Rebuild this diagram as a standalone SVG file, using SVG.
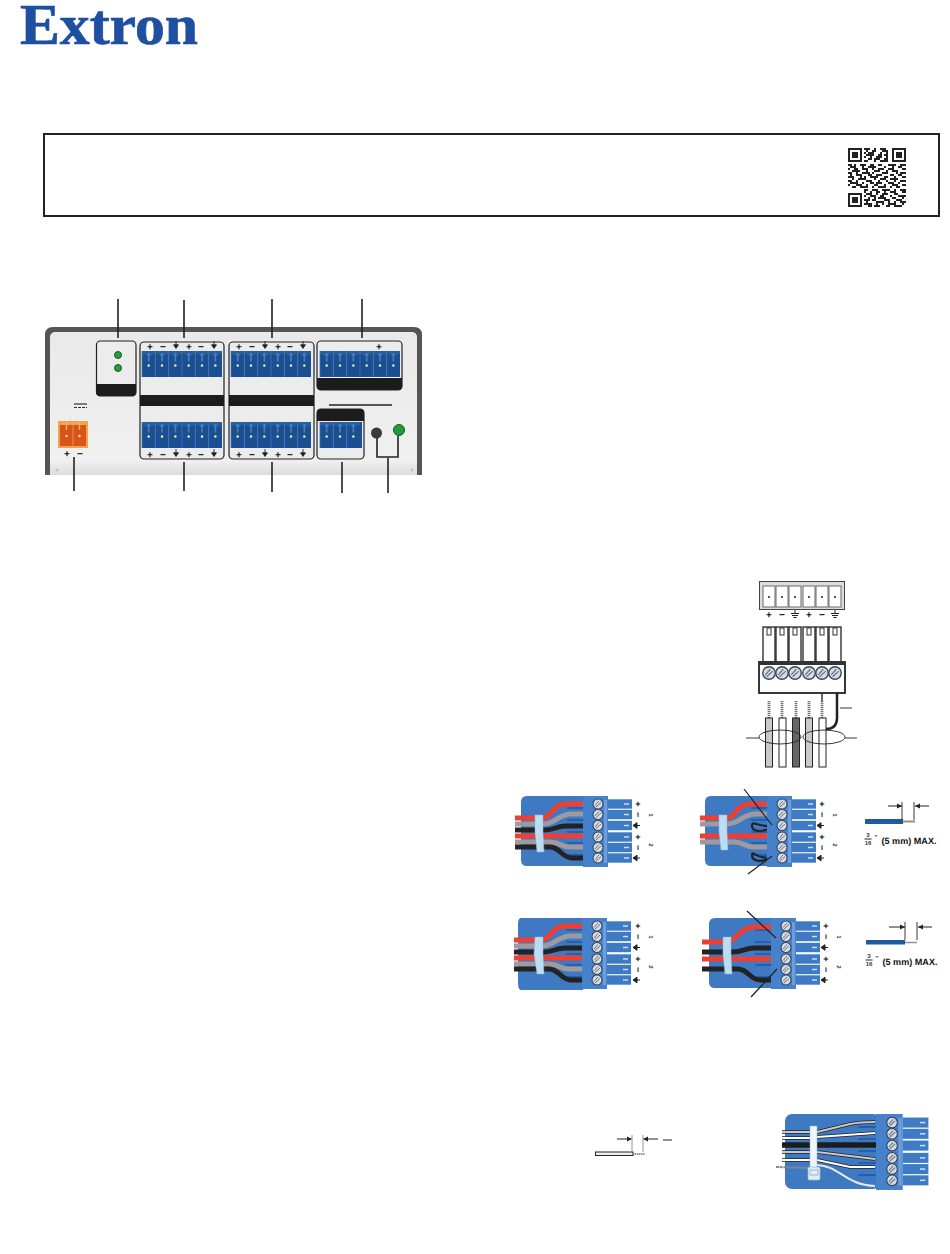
<svg xmlns="http://www.w3.org/2000/svg" width="950" height="1254" viewBox="0 0 950 1254">
<style>
.lead{stroke:#222;stroke-width:1.6;fill:none}
.thin{stroke:#222;stroke-width:.9;fill:none}
.box{fill:#ececec;stroke:#222;stroke-width:1.2}
.blk{fill:#1c1c1c}
.sym{font:bold 10px "Liberation Sans",Arial,sans-serif;fill:#111;text-anchor:middle;text-rendering:geometricPrecision}
.lab{font:bold 9px "Liberation Sans",Arial,sans-serif;fill:#111;text-anchor:middle;text-rendering:geometricPrecision}
.dig{font:bold 6px "Liberation Sans",Arial,sans-serif;fill:#333;text-anchor:middle}
.red{stroke:#ee3f33;stroke-width:5;fill:none}
.gry{stroke:#9e9a9f;stroke-width:5;fill:none}
.bk{stroke:#232323;stroke-width:5;fill:none}
.tie{fill:#bcdcf2;stroke:#8fb8dc;stroke-width:.5}
.jk{stroke:#222;stroke-width:1}
</style>
<defs>
<linearGradient id="pg" x1="0" y1="0" x2="0" y2="1"><stop offset="0" stop-color="#e9e9e9"/><stop offset=".9" stop-color="#f0f0f0"/><stop offset="1" stop-color="#dcdcdc"/></linearGradient>
<g id="cell"><rect width="13.33" height="26" fill="#1c4f92"/><rect width="13.33" height="3.5" fill="#2a5e9c"/><path d="M6.7 1.5l2.500 3h-1.700v6h-1.600v-6h-1.700z" fill="#4680c2"/><path d="M0 0v26" stroke="#3a73b6" stroke-width=".8"/><circle cx="6.700" cy="14.500" r="1.200" fill="#f2f2a8"/></g>
<g id="t6"><use href="#cell"/><use href="#cell" x="13.33"/><use href="#cell" x="26.66"/><use href="#cell" x="40"/><use href="#cell" x="53.33"/><use href="#cell" x="66.66"/></g>
<g id="t3"><use href="#cell"/><use href="#cell" x="13.33"/><use href="#cell" x="26.66"/><rect x="40" width="2" height="26" fill="#1c5195"/></g>
<path id="gnd" d="M0 -5V-1M-2.400 -1.200H2.400L0 2.400Z" fill="#222" stroke="#222" stroke-width=".9"/>
<path id="earth" d="M0 -5V-1.500M-4 -1.500H4M-3 .5H3M-1.600 2.500H1.600" fill="none" stroke="#222" stroke-width="1"/>
<g id="pm6"><text class="sym" x="0" y="3.500">+</text><text class="sym" x="13" y="3.500">−</text><use href="#gnd" x="26"/><text class="sym" x="39" y="3.500">+</text><text class="sym" x="51" y="3.500">−</text><use href="#gnd" x="64"/></g>
<g id="scr"><circle r="5" fill="#d8dbe0" stroke="#34465f" stroke-width="1.100"/><path d="M-3 1.500L1 -3M-2 3L3 -1.500" stroke="#66758a" stroke-width="1"/></g>
<g id="blade"><rect width="24" height="9.400" y="-4.700" fill="#3f7bc4"/><rect x="16" y="-.7" width="5" height="1.400" fill="#cfe3f6"/></g>
<g id="conn">
<path d="M527 796H584V866H527Q521 866 521 860V802Q521 796 527 796Z" fill="#3f79c2"/>
<path d="M567 808h16M567 820h16M567 832h16M567 843h16M567 855h16" stroke="#1d5aa6" stroke-width="1.600"/>
</g>
<g id="head">
<use href="#blade" x="608" y="804"/><use href="#blade" x="608" y="814.500"/><use href="#blade" x="608" y="825.500"/><use href="#blade" x="608" y="837"/><use href="#blade" x="608" y="847.500"/><use href="#blade" x="608" y="858"/>
<rect x="583" y="796" width="25" height="71" fill="#4682cb"/><rect x="604" y="800" width="3" height="63" fill="#6a9fdc"/>
<use href="#scr" x="598" y="804"/><use href="#scr" x="598" y="814.500"/><use href="#scr" x="598" y="825.500"/><use href="#scr" x="598" y="837"/><use href="#scr" x="598" y="847.500"/><use href="#scr" x="598" y="858"/>
</g>
<g id="labs">
<text class="lab" x="638" y="807">+</text><text class="lab" transform="translate(638,814.500) rotate(90)" y="3">−</text><path d="M633 825.500h7M633 825.500l4-2.800v5.600z" stroke="#222" fill="#222"/>
<text class="lab" x="638" y="840">+</text><text class="lab" transform="translate(638,847.500) rotate(90)" y="3">−</text><path d="M633 858h7M633 858l4-2.800v5.600z" stroke="#222" fill="#222"/>
<text class="dig" transform="translate(649,815) rotate(90)">1</text><text class="dig" transform="translate(649,845) rotate(90)">2</text>
</g>
<g id="dfull">
<path class="red" d="M515 818H542C552 818 552 804 566 804H584"/>
<path class="gry" d="M515 824H543C555 824 558 814 572 814H584"/>
<path class="bk" d="M515 830H545C555 830 556 826 566 826H584"/>
<path class="red" d="M515 836H584"/>
<path class="gry" d="M515 842H550C560 842 560 847 570 847H584"/>
<path class="bk" d="M515 847H550C560 847 562 858 572 858H584"/>
</g>
<g id="frac"><text class="dig" x="0" y="0">3</text><path d="M-3.500 2h7" stroke="#222"/><text class="dig" x="0" y="8">16</text><text class="dig" x="8" y="2">"</text><text class="lab" x="41" y="7" textLength="55" lengthAdjust="spacingAndGlyphs">(5 mm) MAX.</text></g>
</defs>

<g id="logo"><text x="20" y="44" font-family="'Liberation Serif','Times New Roman',serif" font-weight="bold" font-size="58" fill="#1f4fa0" stroke="#1f4fa0" stroke-width=".7" textLength="178" lengthAdjust="spacingAndGlyphs">Extron</text></g>

<g id="banner"><rect x="44" y="134" width="895" height="82" fill="#fff" stroke="#222" stroke-width="2"/></g>
<g id="qr">
<g fill="none" stroke="#222" stroke-width="2"><rect x="849" y="149" width="12" height="12"/><rect x="893" y="149" width="12" height="12"/><rect x="849" y="194" width="12" height="12"/></g>
<path d="M852 152h6v6h-6zM896 152h6v6h-6zM852 197h6v6h-6z" fill="#222"/>
<path fill="none" stroke="#222" stroke-width="2" d="M864 149h6M874 149h2M880 149h6M866 151h2M872 151h4M882 151h6M864 153h2M868 153h6M880 153h2M886 153h2M866 155h8M878 155h4M884 155h4M864 157h2M870 157h2M876 157h6M886 157h2M868 159h4M874 159h6M884 159h4M864 161h4M874 161h2M880 161h8
M848 165h4M854 165h2M860 165h6M870 165h4M878 165h4M888 165h8M900 165h6M850 167h6M862 167h2M868 167h8M884 167h2M892 167h2M898 167h4M848 169h2M854 169h4M862 169h6M872 169h2M878 169h6M888 169h6M902 169h4M852 171h8M866 171h2M874 171h6M886 171h2M892 171h6M848 173h4M856 173h2M862 173h8M872 173h2M882 173h6M896 173h2M900 173h6M850 175h2M856 175h6M868 175h4M876 175h6M890 175h4M898 175h4M848 177h6M860 177h2M864 177h2M870 177h8M884 177h4M894 177h2M902 177h4M852 179h2M858 179h8M874 179h2M880 179h6M890 179h8M848 181h4M856 181h2M866 181h6M878 181h2M886 181h2M894 181h2M900 181h6M850 183h8M862 183h2M870 183h4M876 183h6M888 183h6M898 183h2M848 185h2M856 185h6M866 185h2M874 185h4M884 185h2M892 185h6M902 185h4M852 187h4M860 187h8M872 187h2M878 187h8M890 187h2M896 187h4M864 190h4M872 190h6M882 190h8M894 190h2M900 190h6
M864 192h2M870 192h2M876 192h4M884 192h2M890 192h6M902 192h4M866 194h6M876 194h2M882 194h6M894 194h4M864 196h2M870 196h6M880 196h4M890 196h2M898 196h8M868 198h2M874 198h2M878 198h8M892 198h4M902 198h2M864 200h6M872 200h4M884 200h6M896 200h6M866 202h2M876 202h8M888 202h2M894 202h2M900 202h6M864 204h8M876 204h2M882 204h2M888 204h8M902 204h2M868 206h4M874 206h6M886 206h4M894 206h8"/>
</g>

<g id="panel">
<path d="M45 475V335Q45 327 53 327H414Q422 327 422 335V475H417V338Q417 332 411 332H56Q50 332 50 338V475Z" fill="#555"/>
<path d="M50 475V338Q50 332 56 332H411Q417 332 417 338V475Z" fill="url(#pg)"/>
<circle cx="57" cy="470" r="1.500" fill="#c4c4c4"/><circle cx="412" cy="470" r="1.500" fill="#c4c4c4"/>
</g>
<g id="power">
<rect x="58" y="421" width="30" height="27" fill="#f0a24c"/><rect x="60" y="425" width="26" height="21" fill="#d8541a"/><path d="M73 425v21" stroke="#f0a24c" stroke-width=".8"/>
<path d="M66.500 422v8M79.500 422v8" stroke="#f4b070" stroke-width="1.400"/><circle cx="66.500" cy="436" r="1.200" fill="#f6e2a0"/><circle cx="79.500" cy="436" r="1.200" fill="#f6e2a0"/>
<path d="M74 404h13" stroke="#333" stroke-width="1.200"/><path d="M74 407.500h13" stroke="#333" stroke-width="1.200" stroke-dasharray="3 1"/>
<text class="sym" x="67" y="457">+</text><text class="sym" x="80" y="457">−</text>
</g>
<g id="leds">
<rect class="box" x="96.500" y="341" width="39.500" height="55" rx="4"/><path class="blk" d="M96 384H136V392Q136 396 132 396H100Q96 396 96 392Z"/>
<circle cx="118" cy="355" r="3.500" fill="#2c9b3c" stroke="#15631f"/><circle cx="118" cy="368" r="3.500" fill="#2c9b3c" stroke="#15631f"/>
</g>
<g id="in1">
<rect class="box" x="140" y="342" width="84" height="117" rx="4"/><rect class="blk" x="140" y="395" width="84" height="11"/>
<use href="#t6" x="142" y="351"/><use href="#t6" x="142" y="422"/><use href="#pm6" x="150" y="346"/><use href="#pm6" x="150" y="454"/>
</g>
<g id="in2">
<rect class="box" x="229" y="342" width="85" height="117" rx="4"/><rect class="blk" x="229" y="395" width="85" height="11"/>
<use href="#t6" x="231" y="351"/><use href="#t6" x="231" y="422"/><use href="#pm6" x="239" y="346"/><use href="#pm6" x="239" y="454"/>
</g>
<g id="out">
<rect class="box" x="317" y="341" width="85" height="49" rx="4"/><path class="blk" d="M317 378H402V386Q402 390 398 390H321Q317 390 317 386Z"/>
<use href="#t6" x="320" y="351"/><path d="M320 377.500h80" stroke="#fff" stroke-width="1"/><text class="sym" x="379" y="350">+</text>
</g>
<g id="rs">
<path d="M329 405H392" stroke="#222" stroke-width="1.300"/>
<rect class="box" x="317" y="409" width="47" height="50" rx="4"/><path class="blk" d="M317 421V413Q317 409 321 409H360Q364 409 364 413V421Z"/>
<use href="#t3" x="320" y="422"/>
</g>
<g id="buttons"><circle cx="376.500" cy="433" r="5.500" fill="#3a3a3a"/><circle cx="399" cy="430" r="5.500" fill="#1f9c3a" stroke="#0e5f20"/></g>

<g id="wiring">
<g id="wtop"><rect x="759.500" y="581.500" width="85" height="28" fill="#dcdcdc" stroke="#444"/>
<g fill="#fff" stroke="#777" stroke-width="1.100"><rect x="763" y="586" width="12" height="21"/><rect x="776" y="586" width="12" height="21"/><rect x="789" y="586" width="12" height="21"/><rect x="803" y="586" width="12" height="21"/><rect x="816" y="586" width="12" height="21"/><rect x="829" y="586" width="12" height="21"/></g>
<g fill="#222"><circle cx="769" cy="597" r="1"/><circle cx="782" cy="597" r="1"/><circle cx="795" cy="597" r="1"/><circle cx="809" cy="597" r="1"/><circle cx="822" cy="597" r="1"/><circle cx="835" cy="597" r="1"/></g>
<text class="sym" x="769" y="618">+</text><text class="sym" x="782" y="618">−</text><use href="#earth" x="795" y="615"/><text class="sym" x="809" y="618">+</text><text class="sym" x="822" y="618">−</text><use href="#earth" x="835" y="615"/></g>
<g id="wplug">
<g fill="#fff" stroke="#222" stroke-width="1.300"><rect x="763" y="627" width="12" height="36"/><rect x="776" y="627" width="12" height="36"/><rect x="789" y="627" width="12" height="36"/><rect x="803" y="627" width="12" height="36"/><rect x="816" y="627" width="12" height="36"/><rect x="829" y="627" width="12" height="36"/></g>
<g fill="#fff" stroke="#333"><rect x="767" y="628" width="4" height="7"/><rect x="780" y="628" width="4" height="7"/><rect x="793" y="628" width="4" height="7"/><rect x="807" y="628" width="4" height="7"/><rect x="820" y="628" width="4" height="7"/><rect x="833" y="628" width="4" height="7"/></g>
<rect x="759" y="662" width="86" height="31" fill="#fff" stroke="#222" stroke-width="1.800"/><rect x="758" y="661" width="87" height="4" fill="#333"/>
<g transform="translate(769,673) scale(1.250)"><use href="#scr"/></g><g transform="translate(782,673) scale(1.250)"><use href="#scr"/></g><g transform="translate(795,673) scale(1.250)"><use href="#scr"/></g><g transform="translate(809,673) scale(1.250)"><use href="#scr"/></g><g transform="translate(822,673) scale(1.250)"><use href="#scr"/></g><g transform="translate(835,673) scale(1.250)"><use href="#scr"/></g>
</g>
<g id="wcables">
<path d="M837 693V718Q837 729 826 729" stroke="#222" stroke-width="2.500" fill="none"/><path d="M822 693V702" stroke="#333" stroke-width="1.500"/>
<g stroke="#777" stroke-width="2.800" stroke-dasharray="1.300 .7"><path d="M769 701V718"/><path d="M782 701V718"/><path d="M796 701V718"/><path d="M809 701V718"/><path d="M822 701V718"/></g>
<g class="jk"><rect x="765.500" y="718" width="7" height="49" fill="#c9c9c9"/><rect x="779" y="718" width="7" height="49" fill="#fff"/><rect x="792.500" y="718" width="7" height="49" fill="#666"/><rect x="805.500" y="718" width="7" height="49" fill="#c9c9c9"/><rect x="819" y="718" width="7" height="49" fill="#fff"/></g>
<ellipse cx="780" cy="737" rx="21" ry="7" fill="none" stroke="#222" stroke-width=".9"/><ellipse cx="824" cy="737" rx="21" ry="7" fill="none" stroke="#222" stroke-width=".9"/>
</g>
</g>

<g id="diagA">
<use href="#conn"/><use href="#dfull"/>
<path class="tie" d="M535 815H543V832L544 852H537L535 832Z"/>
<use href="#head"/><use href="#labs"/>
</g>
<g id="diagB">
<g transform="translate(184,0)"><use href="#conn"/>
<path class="red" d="M516 818H542C552 818 552 804 566 804H584"/><path class="gry" d="M516 824H543C555 824 558 814 572 814H584"/><path class="red" d="M516 836H584"/><path class="gry" d="M516 842H550C560 842 560 847 570 847H584"/>
<path d="M584 826C572 826 568 820 568 826C568 832 578 832 584 829M584 858C572 858 568 850 568 855C568 862 578 862 584 859" stroke="#232323" stroke-width="2.200" fill="none"/>
<path class="tie" d="M535 815H543V832L544 850H537L535 832Z"/>
<use href="#head"/><use href="#labs"/></g>
<path d="M744 789L772 825M748 874L772 856" stroke="#222" stroke-width="1.200"/>
</g>
<g id="stripA">
<rect x="865" y="819" width="38" height="5" fill="#1f5a9f"/><path d="M903 821.500h12" stroke="#9a8f84" stroke-width="2"/>
<path class="thin" d="M902 802V820M914 802V820"/><path d="M888 806H902M929 806H915" stroke="#222"/><path d="M902 806l-5-2.500v5zM915 806l5-2.500v5z" fill="#222"/>
<use href="#frac" x="868" y="837"/>
</g>
<g id="diagC">
<g transform="translate(-1,122)"><path d="M522 796H584V868H522Q519 868 519 860V802Q519 796 522 796Z" fill="#3f79c2"/><use href="#conn"/><use href="#dfull"/>
<path class="tie" d="M536 815H544V832L545 852H538L535 832Z"/><use href="#head"/></g>
<g transform="translate(0,122)"><use href="#labs"/></g>
</g>
<g id="diagD">
<g transform="translate(188,122)"><use href="#conn"/>
<path class="red" d="M514 820H538C548 820 552 805 566 805H584"/><path class="bk" d="M514 830H544C556 830 556 826 566 826H584"/><path class="red" d="M514 837H584"/><path class="bk" d="M514 847H550C560 847 562 858 572 858H584"/>
<path class="tie" d="M535 815H543V832L544 852H537L535 832Z"/><use href="#head"/><use href="#labs"/></g>
<path d="M747 911L776 938M751 997L777 969" stroke="#222" stroke-width="1.200"/>
</g>
<g id="stripB">
<rect x="866" y="940" width="39" height="4.500" fill="#1f5a9f"/><path d="M905 942.500h12" stroke="#9a8f84" stroke-width="1.500"/>
<path class="thin" d="M905 922V940M917 922V940"/><path d="M889 927H905M932 927H918" stroke="#222"/><path d="M905 927l-5-2.500v5zM918 927l5-2.500v5z" fill="#222"/>
<use href="#frac" x="869" y="958"/>
</g>
<g id="stripC">
<rect x="595.500" y="1152" width="37.500" height="3.500" fill="#eee" stroke="#222"/><path d="M633 1154h12" stroke="#777" stroke-width="1.500" stroke-dasharray="1.500 .5"/>
<path d="M632 1135V1152M643 1135V1152" stroke="#888" stroke-width=".9"/><path d="M617 1139H631M658 1139H644" stroke="#222"/><path d="M632 1139l-5-2.500v5zM643 1139l5-2.500v5z" fill="#222"/>
<path d="M663 1140h9" stroke="#222"/>
</g>
<g id="diagE">
<rect x="785" y="1114" width="95" height="75" rx="7" fill="#3f79c2"/>
<path d="M858 1127h18M858 1139h18M858 1151h18M858 1163h18M858 1175h18" stroke="#1d5aa6" stroke-width="1.600"/>
<g fill="none">
<path d="M782 1132H810M817 1132L850 1124Q860 1122 875 1122" stroke="#222" stroke-width="3.600"/><path d="M782 1132H810M817 1132L850 1124Q860 1122 875 1122" stroke="#c9c9c9" stroke-width="2.200"/>
<path d="M782 1138H810M817 1137L875 1133" stroke="#222" stroke-width="3.600"/><path d="M782 1138H810M817 1137L875 1133" stroke="#fff" stroke-width="2.200"/>
<path d="M782 1145H876" stroke="#1c1c1c" stroke-width="5.500"/>
<path d="M782 1152H810M817 1152L875 1159" stroke="#222" stroke-width="3.600"/><path d="M782 1152H810M817 1152L875 1159" stroke="#c9c9c9" stroke-width="2.200"/>
<path d="M782 1160H810M817 1160L850 1167H875" stroke="#222" stroke-width="3.600"/><path d="M782 1160H810M817 1160L850 1167H875" stroke="#fff" stroke-width="2.200"/>
<path d="M776 1167L810 1168" stroke="#888" stroke-width="2" stroke-dasharray="3 .7"/>
<path d="M817 1165C840 1166 845 1185 875 1186" stroke="#e8e8e8" stroke-width="2"/>
</g>
<rect class="tie" x="810" y="1126" width="7" height="42" style="fill:#eef6fb"/><rect x="808" y="1167" width="12" height="13" rx="1.500" fill="#dfeef8" stroke="#8fb8dc" stroke-width=".7"/><rect x="810" y="1170" width="8" height="5" fill="none" stroke="#8fa0b0" stroke-width=".7"/>
<g transform="translate(876,1114) scale(1.070) translate(-583,-796)"><use href="#head"/></g>
</g>

<g id="connectors">
<path class="lead" d="M118 299V338M184 300V338M272 299V338M362 299V338M74 457V491M184 462V491M272 462V492M342 462V493M388 458V493"/>
<path class="lead" d="M377 438V457H398V436"/>
<path class="thin" d="M840 708H852M746 738H759M845 738H857"/>
</g>
</svg>
